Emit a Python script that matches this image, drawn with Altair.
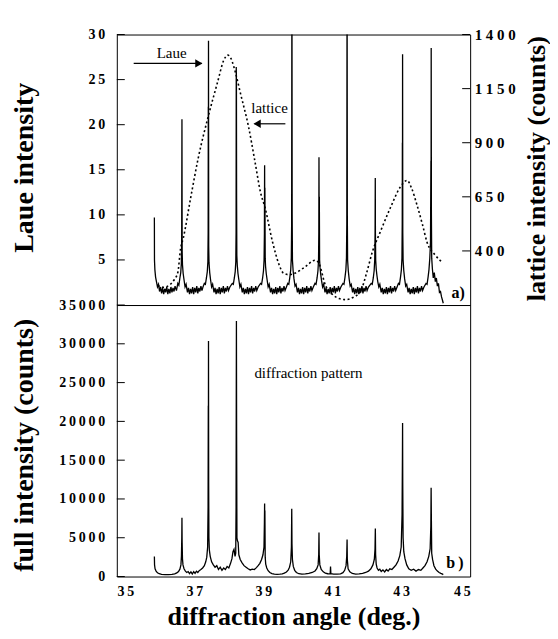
import altair as alt
import pandas as pd

SERIF = "Liberation Serif"
SP = "\u2009"

# ---------------- data ----------------
laue_points = [
    (35.84, 9.7), (35.843, 5.0), (35.855, 3.9), (35.875, 3.1), (35.90, 2.6), (35.93, 2.0), (35.96, 2.3),
    (35.99, 1.5), (36.02, 2.0), (36.05, 1.3), (36.08, 1.9), (36.11, 1.2), (36.14, 1.8), (36.17, 1.4),
    (36.20, 2.0), (36.23, 1.2), (36.26, 1.8), (36.29, 1.3), (36.32, 2.0), (36.35, 1.4), (36.38, 1.9),
    (36.41, 1.5), (36.44, 2.1), (36.48, 1.6),
    (36.52, 2.4), (36.55, 2.2), (36.58, 3.0), (36.605, 3.6), (36.622, 4.6), (36.632, 7.0), (36.64, 20.6),
    (36.646, 6.0), (36.655, 4.5), (36.675, 3.5), (36.70, 2.8), (36.73, 2.0), (36.76, 2.3), (36.80, 1.4),
    (36.83, 1.9), (36.86, 1.2), (36.89, 1.8), (36.92, 1.3), (36.95, 2.0), (36.98, 1.2), (37.01, 1.9),
    (37.04, 1.4), (37.07, 2.1), (37.10, 1.3), (37.13, 1.9), (37.16, 1.5), (37.19, 2.1), (37.22, 1.6),
    (37.25, 2.0),
    (37.29, 2.4), (37.32, 2.3), (37.35, 3.0), (37.375, 3.7), (37.392, 4.8), (37.40, 8.0), (37.404, 22.0),
    (37.407, 12.0), (37.41, 29.3), (37.416, 6.5), (37.425, 4.7), (37.445, 3.6), (37.47, 2.8), (37.50, 2.0),
    (37.53, 2.3), (37.57, 1.4),
    (37.60, 1.9), (37.63, 1.2), (37.66, 1.8), (37.69, 1.3), (37.72, 2.0), (37.75, 1.2), (37.78, 1.9),
    (37.81, 1.4), (37.84, 2.1), (37.87, 1.3), (37.90, 1.9), (37.93, 1.5), (37.96, 2.1), (37.99, 1.6),
    (38.03, 2.0),
    (38.10, 2.4), (38.13, 2.3), (38.16, 3.0), (38.185, 3.7), (38.202, 4.8), (38.21, 8.0), (38.215, 26.4),
    (38.22, 25.0), (38.225, 12.0), (38.232, 5.5), (38.245, 4.4), (38.265, 3.5), (38.29, 2.8), (38.32, 2.0),
    (38.35, 2.3), (38.39, 1.4),
    (38.42, 1.9), (38.45, 1.2), (38.48, 1.8), (38.51, 1.3), (38.54, 2.0), (38.57, 1.2), (38.60, 1.9),
    (38.63, 1.4), (38.66, 2.1), (38.69, 1.3), (38.72, 1.9), (38.75, 1.5), (38.78, 2.1), (38.81, 1.6),
    (38.85, 2.0),
    (38.92, 2.4), (38.95, 2.3), (38.98, 3.0), (39.005, 3.8), (39.022, 5.0), (39.032, 8.0), (39.038, 15.5),
    (39.042, 9.0), (39.046, 13.0), (39.055, 5.2), (39.065, 4.3), (39.085, 3.5), (39.11, 2.8), (39.14, 2.0),
    (39.17, 2.3), (39.21, 1.4),
    (39.24, 1.9), (39.27, 1.2), (39.30, 1.8), (39.33, 1.3), (39.36, 2.0), (39.39, 1.2), (39.42, 1.9),
    (39.45, 1.4), (39.48, 2.1), (39.51, 1.3), (39.54, 1.9), (39.57, 1.5), (39.60, 2.1), (39.63, 1.6),
    (39.67, 2.0),
    (39.71, 2.4), (39.74, 2.3), (39.77, 3.1), (39.795, 3.9), (39.812, 5.2), (39.822, 9.0), (39.83, 40.0),
    (39.837, 10.0), (39.845, 5.0), (39.865, 3.8), (39.89, 2.9), (39.92, 2.1), (39.95, 2.3), (39.99, 1.4),
    (40.02, 1.9), (40.05, 1.2), (40.08, 1.8), (40.11, 1.3), (40.14, 2.0), (40.17, 1.2), (40.20, 1.9),
    (40.23, 1.4), (40.26, 2.1), (40.29, 1.3), (40.32, 1.9), (40.35, 1.5), (40.38, 2.1), (40.41, 1.6),
    (40.45, 2.0),
    (40.50, 2.4), (40.53, 2.3), (40.56, 3.0), (40.585, 3.8), (40.602, 5.0), (40.61, 8.0), (40.615, 16.4),
    (40.62, 9.0), (40.625, 12.0), (40.633, 5.0), (40.645, 4.2), (40.665, 3.4), (40.69, 2.7), (40.72, 2.0),
    (40.75, 2.3), (40.79, 1.4),
    (40.82, 1.9), (40.85, 1.2), (40.88, 1.8), (40.91, 1.3), (40.94, 2.0), (40.97, 1.2), (41.00, 1.9),
    (41.03, 1.4), (41.06, 2.1), (41.09, 1.3), (41.12, 1.9), (41.15, 1.5), (41.18, 2.1), (41.21, 1.6),
    (41.25, 2.0),
    (41.31, 2.4), (41.34, 2.3), (41.37, 3.1), (41.395, 3.9), (41.412, 5.2), (41.422, 9.0), (41.43, 40.0),
    (41.437, 10.0), (41.445, 5.0), (41.465, 3.8), (41.49, 2.9), (41.52, 2.1), (41.55, 2.3), (41.59, 1.4),
    (41.62, 1.9), (41.65, 1.2), (41.68, 1.8), (41.71, 1.3), (41.74, 2.0), (41.77, 1.2), (41.80, 1.9),
    (41.83, 1.4), (41.86, 2.1), (41.89, 1.3), (41.92, 1.9), (41.95, 1.5), (41.98, 2.1), (42.01, 1.6),
    (42.05, 2.0),
    (42.13, 2.4), (42.16, 2.3), (42.19, 3.0), (42.215, 3.8), (42.232, 5.0), (42.242, 8.0), (42.248, 14.1),
    (42.252, 8.0), (42.26, 5.0), (42.275, 4.0), (42.295, 3.3), (42.32, 2.6), (42.35, 2.0), (42.38, 2.3),
    (42.42, 1.4),
    (42.45, 1.9), (42.48, 1.2), (42.51, 1.8), (42.54, 1.3), (42.57, 2.0), (42.60, 1.2), (42.63, 1.9),
    (42.66, 1.4), (42.69, 2.1), (42.72, 1.3), (42.75, 1.9), (42.78, 1.5), (42.81, 2.1), (42.84, 1.6),
    (42.88, 2.0),
    (42.92, 2.4), (42.95, 2.3), (42.98, 3.1), (43.005, 3.9), (43.022, 5.2), (43.03, 9.0), (43.034, 18.0),
    (43.037, 10.0), (43.04, 27.8), (43.046, 8.0), (43.055, 5.0), (43.075, 3.8), (43.10, 2.9), (43.13, 2.1),
    (43.16, 2.3), (43.20, 1.4),
    (43.23, 1.9), (43.26, 1.2), (43.29, 1.8), (43.32, 1.3), (43.35, 2.0), (43.38, 1.2), (43.41, 1.9),
    (43.44, 1.4), (43.47, 2.1), (43.50, 1.3), (43.53, 1.9), (43.56, 1.5), (43.59, 2.1), (43.62, 1.6),
    (43.66, 2.0),
    (43.72, 2.4), (43.75, 2.3), (43.78, 3.1), (43.805, 3.9), (43.83, 5.2), (43.85, 7.0), (43.862, 16.0),
    (43.866, 10.0), (43.87, 28.5), (43.876, 10.0), (43.885, 5.2), (43.905, 4.0), (43.93, 3.0), (43.96, 3.6),
    (43.99, 2.6), (44.02, 3.0), (44.05, 2.1), (44.08, 2.4), (44.11, 1.4), (44.14, 1.5), (44.17, 0.9),
    (44.20, 0.5), (44.22, 0.2),
]

lattice_points = [
    (35.94, 240), (36.10, 232), (36.30, 245), (36.42, 268), (36.52, 300), (36.60, 410), (36.68, 460),
    (36.89, 643), (37.12, 835), (37.40, 1020), (37.67, 1178), (37.85, 1280), (37.97, 1305),
    (38.06, 1290), (38.19, 1225), (38.35, 1120), (38.57, 975), (38.75, 820), (38.92, 670),
    (39.05, 600), (39.27, 440), (39.45, 340), (39.58, 298), (39.75, 290), (39.93, 298), (40.20, 325),
    (40.51, 357), (40.62, 340), (40.80, 242), (41.00, 200), (41.20, 180), (41.40, 175), (41.60, 185),
    (41.81, 210), (42.00, 300), (42.16, 394), (42.39, 487), (42.68, 597), (42.97, 694), (43.17, 726),
    (43.30, 690), (43.46, 611), (43.62, 520), (43.75, 440), (43.99, 380), (44.19, 348),
]

full_points = [
    (35.84, 2570), (35.845, 1500), (35.86, 1000), (35.89, 700), (35.93, 480), (35.98, 360), (36.05, 290),
    (36.15, 250), (36.25, 240), (36.35, 270), (36.43, 340), (36.49, 460), (36.54, 650), (36.58, 950),
    (36.61, 1500), (36.625, 2600), (36.635, 5000), (36.64, 7590), (36.645, 4500), (36.655, 2300),
    (36.67, 1500), (36.70, 1000), (36.74, 700), (36.78, 520), (36.82, 640), (36.86, 380), (36.90, 600),
    (36.94, 330), (36.98, 620), (37.02, 400), (37.06, 680), (37.10, 520), (37.14, 760), (37.19, 900),
    (37.24, 1100), (37.29, 1400), (37.33, 1900), (37.36, 2500), (37.385, 3800), (37.398, 9000),
    (37.404, 22000), (37.407, 14000), (37.41, 30370), (37.415, 12000), (37.422, 5000), (37.435, 3400),
    (37.46, 2600), (37.50, 1900), (37.55, 1500), (37.60, 1200), (37.65, 1400), (37.70, 900),
    (37.75, 1200), (37.80, 800), (37.85, 1100), (37.90, 900), (37.95, 1300), (38.00, 1100),
    (38.05, 1700), (38.09, 2300), (38.12, 3200), (38.15, 3500), (38.18, 2600), (38.20, 3000),
    (38.21, 9000), (38.216, 25000), (38.22, 32950), (38.226, 18000), (38.235, 5000), (38.25, 4600),
    (38.27, 4400), (38.29, 2800), (38.33, 2200), (38.38, 1800), (38.44, 1400), (38.50, 1200),
    (38.56, 1000), (38.62, 850), (38.68, 950), (38.74, 900), (38.80, 1150), (38.85, 1400), (38.90, 1700),
    (38.95, 2200), (38.99, 2800), (39.02, 3800), (39.032, 7000), (39.038, 9400), (39.042, 6000),
    (39.046, 8500), (39.055, 2500), (39.07, 1600), (39.10, 1100), (39.14, 750), (39.19, 520),
    (39.25, 380), (39.32, 300), (39.40, 270), (39.48, 300), (39.55, 340), (39.61, 430), (39.67, 580),
    (39.72, 820), (39.76, 1200), (39.795, 1900), (39.815, 3800), (39.825, 8750), (39.832, 4200),
    (39.845, 2200), (39.87, 1300), (39.91, 800), (39.96, 520), (40.03, 360), (40.12, 300), (40.22, 330),
    (40.32, 400), (40.42, 520), (40.50, 720), (40.55, 1000), (40.59, 1500), (40.607, 2800),
    (40.615, 5660), (40.622, 2800), (40.64, 1500), (40.68, 900), (40.74, 600), (40.80, 430),
    (40.87, 360), (40.94, 350), (40.95, 1300), (40.96, 360), (41.04, 310), (41.14, 300), (41.24, 350),
    (41.31, 500), (41.36, 800), (41.40, 1400), (41.42, 2600), (41.43, 4760), (41.437, 2200),
    (41.46, 1000), (41.51, 600), (41.58, 400), (41.68, 320), (41.78, 350), (41.88, 420), (41.97, 520),
    (42.05, 700), (42.12, 1000), (42.18, 1500), (42.22, 2200), (42.24, 3500), (42.25, 6180),
    (42.258, 2800), (42.275, 1600), (42.30, 1100), (42.34, 800), (42.38, 950), (42.42, 650),
    (42.47, 850), (42.52, 600), (42.57, 900), (42.62, 700), (42.67, 1000), (42.73, 900), (42.79, 1200),
    (42.85, 1500), (42.91, 2000), (42.96, 2700), (43.00, 3800), (43.025, 8000), (43.035, 15000),
    (43.04, 19800), (43.045, 12000), (43.055, 5000), (43.075, 3200), (43.11, 2300), (43.16, 1500),
    (43.22, 1000), (43.29, 800), (43.36, 950), (43.43, 700), (43.50, 900), (43.57, 800), (43.63, 1100),
    (43.69, 1400), (43.75, 1900), (43.80, 2600), (43.84, 3600), (43.86, 6500), (43.868, 11450),
    (43.874, 8000), (43.885, 3000), (43.91, 2200), (43.95, 1400), (44.00, 950), (44.05, 700),
    (44.10, 520), (44.15, 400), (44.20, 300), (44.22, 250),
]

laue_ticks = [5, 10, 15, 20, 25, 30]
lattice_ticks = [400, 650, 900, 1150, 1400]
full_ticks = [0, 5000, 10000, 15000, 20000, 25000, 30000, 35000]
angle_ticks = [35, 37, 39, 41, 43, 45]

# annotations (data coordinates)
laue_labels = ["Laue", "lattice"]
laue_label_x = [36.34, 39.18]
laue_label_y = [28.0, 21.9]
panel_a_label = ["a)"]
panel_a_x = [44.65]
panel_a_y = [1.35]
arrow_x = [35.24, 39.64]
arrow_x2 = [37.22, 38.75]
arrow_y = [26.8, 20.1]
head_x = [37.13, 38.82]
head_shape = ["triangle-right", "triangle-left"]
full_labels = ["diffraction pattern"]
full_label_x = [40.31]
full_label_y = [26300]
panel_b_label = ["b" + SP + ")"]
panel_b_x = [44.56]
panel_b_y = [1800]

# ---------------- chart ----------------
thin = "join(split(toString(datum.value), ''), '\u2009')"
wide = "join(split(toString(datum.value), ''), ' ')"
x_scale = alt.Scale(domain=[34.75, 45.0], nice=False)
laue_scale = alt.Scale(domain=[0, 30], nice=False)
lattice_scale = alt.Scale(domain=[150, 1400], nice=False)
full_scale = alt.Scale(domain=[0, 35000], nice=False)

def left_axis(title, values, ty):
    return alt.Axis(
        title=title, values=values, ticks=False, domain=False, grid=False,
        labelFont=SERIF, labelFontWeight="bold", labelFontSize=14, labelColor="black",
        labelPadding=12, labelExpr=thin,
        titleFont=SERIF, titleFontWeight="bold", titleFontSize=28, titleColor="black",
        titleAngle=270, titleX=-92, titleY=ty, titleAlign="center", titleBaseline="middle",
    )

laue_axis = left_axis("Laue intensity", laue_ticks, 133)
full_axis = left_axis("full intensity (counts)", full_ticks, 140)
lattice_axis = alt.Axis(
    orient="right", title="lattice intensity (counts)", values=lattice_ticks, ticks=False,
    domain=False, grid=False, labelFont=SERIF, labelFontWeight="bold", labelFontSize=15,
    labelColor="black", labelPadding=4, labelExpr=wide,
    titleFont=SERIF, titleFontWeight="bold", titleFontSize=26, titleColor="black",
    titleAngle=270, titleX=66, titleY=134, titleAlign="center", titleBaseline="middle",
)
x_axis = alt.Axis(
    title="diffraction angle (deg.)", values=angle_ticks, ticks=False, domain=False, grid=False,
    labelFont=SERIF, labelFontWeight="bold", labelFontSize=14, labelColor="black", labelPadding=8,
    labelExpr=thin, titleFont=SERIF, titleFontWeight="bold", titleFontSize=26,
    titleColor="black", titlePadding=5,
)

X = alt.X("deg:Q", scale=x_scale, axis=None)

laue_df = pd.DataFrame(laue_points, columns=["deg", "laue"])
lattice_df = pd.DataFrame(lattice_points, columns=["deg", "lattice"])
full_df = pd.DataFrame(full_points, columns=["deg", "full"])

Y_laue = alt.Y("laue:Q", scale=laue_scale, axis=laue_axis)
Y_lat = alt.Y("lattice:Q", scale=lattice_scale, axis=lattice_axis)

laue_line = alt.Chart(laue_df).mark_line(color="black", strokeWidth=1.3, clip=True).encode(x=X, y=Y_laue)
laue_tk = alt.Chart(pd.DataFrame({"laue": laue_ticks})).mark_rule(color="black").encode(
    y=Y_laue, x=alt.value(0), x2=alt.value(8))
laue_txt = alt.Chart(pd.DataFrame({"deg": laue_label_x, "laue": laue_label_y, "label": laue_labels})).mark_text(
    font=SERIF, fontSize=15, color="black").encode(x=X, y=Y_laue, text="label:N")
a_txt = alt.Chart(pd.DataFrame({"deg": panel_a_x, "laue": panel_a_y, "label": panel_a_label})).mark_text(
    font=SERIF, fontSize=16, fontWeight="bold", color="black").encode(x=X, y=Y_laue, text="label:N")
arrows = alt.Chart(pd.DataFrame({"deg": arrow_x, "deg2": arrow_x2, "laue": arrow_y})).mark_rule(
    color="black", strokeWidth=1.2).encode(x=X, x2="deg2:Q", y=Y_laue)
heads = alt.Chart(pd.DataFrame({"deg": head_x, "laue": arrow_y, "shp": head_shape})).mark_point(
    filled=True, color="black", opacity=1, size=70).encode(
    x=X, y=Y_laue, shape=alt.Shape("shp:N", scale=None))

laue_layer = alt.layer(laue_line, laue_tk, laue_txt, a_txt, arrows, heads)

lat_line = alt.Chart(lattice_df).mark_line(
    color="black", strokeWidth=1.6, strokeDash=[2, 2.5], interpolate="monotone").encode(x=X, y=Y_lat)
lat_tk = alt.Chart(pd.DataFrame({"lattice": lattice_ticks})).mark_rule(color="black").encode(
    y=Y_lat, x=alt.value(346), x2=alt.value(354))
lattice_layer = alt.layer(lat_line, lat_tk)

top = alt.layer(laue_layer, lattice_layer).resolve_scale(y="independent").properties(width=354, height=271)

Xb = alt.X("deg:Q", scale=x_scale, axis=x_axis)
Y_full = alt.Y("full:Q", scale=full_scale, axis=full_axis)
full_line = alt.Chart(full_df).mark_line(color="black", strokeWidth=1.3, clip=True).encode(x=Xb, y=Y_full)
full_tk = alt.Chart(pd.DataFrame({"full": full_ticks})).mark_rule(color="black").encode(
    y=Y_full, x=alt.value(0), x2=alt.value(8))
full_txt = alt.Chart(pd.DataFrame({"deg": full_label_x, "full": full_label_y, "label": full_labels})).mark_text(
    font=SERIF, fontSize=15, color="black").encode(x=Xb, y=Y_full, text="label:N")
b_txt = alt.Chart(pd.DataFrame({"deg": panel_b_x, "full": panel_b_y, "label": panel_b_label})).mark_text(
    font=SERIF, fontSize=16, fontWeight="bold", color="black").encode(x=Xb, y=Y_full, text="label:N")
bottom = alt.layer(full_line, full_tk, full_txt, b_txt).properties(width=354, height=272)

chart = alt.vconcat(top, bottom, spacing=0, bounds="flush").properties(
    padding={"left": 2, "top": 18, "right": 0, "bottom": 0},
    background="white",
).configure_view(stroke="black", strokeWidth=1)

chart.save("out.html", embed_options={"renderer": "svg", "actions": False})
